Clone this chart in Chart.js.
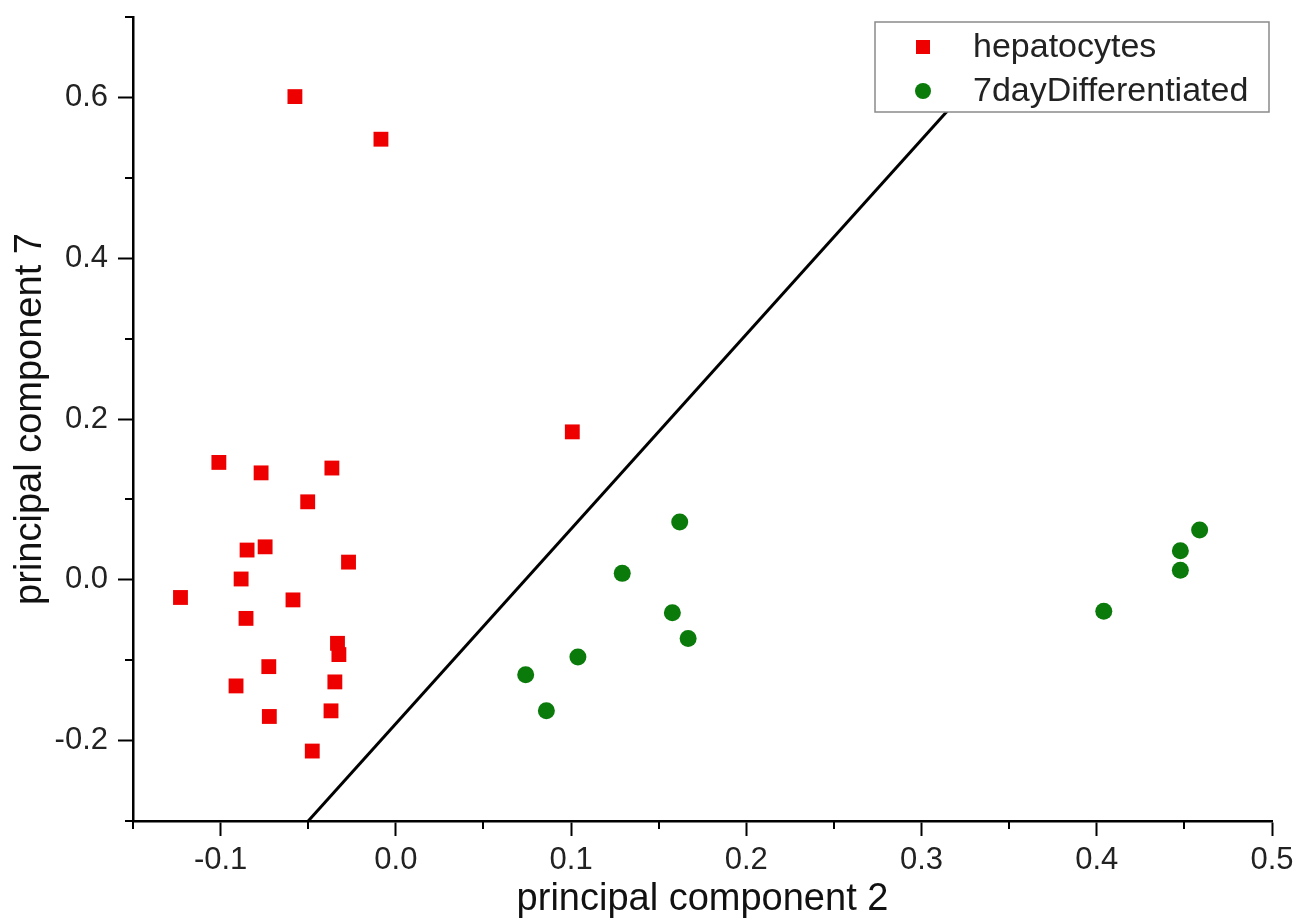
<!DOCTYPE html>
<html>
<head>
<meta charset="utf-8">
<script src="https://cdn.jsdelivr.net/npm/chart.js@4.4.1/dist/chart.umd.min.js"></script>
<style>
  html, body { margin: 0; padding: 0; background: #ffffff; }
  #wrap { width: 1300px; height: 922px; position: relative; }
</style>
</head>
<body>
<div id="wrap"><canvas id="c" width="1300" height="922"></canvas></div>
<script>
// ---- data ----
const seriesNames = ['hepatocytes', '7dayDifferentiated'];

const hepX = [-0.0576, -0.0085, 0.1007, -0.1010, -0.0769, -0.0365, -0.0503, -0.0849, -0.0746, -0.0270,
              -0.0883, -0.1229, -0.0587, -0.0855, -0.0333, -0.0325, -0.0725, -0.0348, -0.0912, -0.0370,
              -0.0722, -0.0477];
const hepY = [0.601, 0.548, 0.184, 0.146, 0.133, 0.139, 0.097, 0.037, 0.041, 0.022,
              0.001, -0.022, -0.025, -0.048, -0.079, -0.093, -0.108, -0.127, -0.132, -0.163,
              -0.170, -0.213];

const difX = [0.1620, 0.1292, 0.1578, 0.1668, 0.1039, 0.0741, 0.0859, 0.4040, 0.4477, 0.4477, 0.4587];
const difY = [0.072, 0.008, -0.041, -0.073, -0.096, -0.118, -0.163, -0.039, 0.012, 0.036, 0.062];

// separating line
const lineX = [-0.05, 0.33];
const lineY = [-0.30, 0.62];

// axes
const xMin = -0.15, xMax = 0.5;
const yMin = -0.3, yMax = 0.7;
const xMajorTicks = [-0.1, 0.0, 0.1, 0.2, 0.3, 0.4, 0.5];
const xMinorTicks = [-0.15, -0.05, 0.05, 0.15, 0.25, 0.35, 0.45];
const yMajorTicks = [-0.2, 0.0, 0.2, 0.4, 0.6];
const yMinorTicks = [-0.3, -0.1, 0.1, 0.3, 0.5, 0.7];
const xTitle = 'principal component 2';
const yTitle = 'principal component 7';

// ---- styles ----
const RED = '#ee0000';
const GREEN = '#0a7a0a';
const FONT = "'Liberation Sans', Arial, Helvetica, sans-serif";
const isMajor = (list, v) => list.some(m => Math.abs(m - v) < 1e-9);

const minorTicksPlugin = {
  id: 'minorTicks',
  afterDraw(chart) {
    const ctx = chart.ctx;
    const xs = chart.scales.x, ys = chart.scales.y;
    const a = chart.chartArea;
    ctx.save();
    ctx.strokeStyle = '#000';
    ctx.lineWidth = 2;
    ctx.beginPath();
    xMinorTicks.forEach(v => {
      const px = Math.round(xs.getPixelForValue(v));
      ctx.moveTo(px, a.bottom);
      ctx.lineTo(px, a.bottom + 8);
    });
    yMinorTicks.forEach(v => {
      const py = Math.round(ys.getPixelForValue(v));
      ctx.moveTo(a.left - 8, py);
      ctx.lineTo(a.left, py);
    });
    ctx.stroke();
    ctx.restore();
  }
};

const legendPlugin = {
  id: 'boxLegend',
  afterDraw(chart) {
    const ctx = chart.ctx;
    const bx = 875, by = 22, bw = 394, bh = 90;
    ctx.save();
    ctx.fillStyle = '#ffffff';
    ctx.fillRect(bx, by, bw, bh);
    ctx.strokeStyle = '#8a8a8a';
    ctx.lineWidth = 1.5;
    ctx.strokeRect(bx, by, bw, bh);
    const ds = chart.data.datasets;
    const rows = [47, 91];
    [0, 1].forEach(i => {
      const cy = rows[i];
      ctx.fillStyle = ds[i].backgroundColor;
      if (ds[i].pointStyle === 'rect') {
        ctx.fillRect(923 - 7, cy - 7, 14, 14);
      } else {
        ctx.beginPath();
        ctx.arc(923, cy, 8, 0, Math.PI * 2);
        ctx.fill();
      }
      ctx.fillStyle = '#222';
      ctx.font = '34px ' + FONT;
      ctx.textBaseline = 'middle';
      ctx.textAlign = 'left';
      ctx.fillText(ds[i].label, 973, cy + 1);
    });
    ctx.restore();
  }
};

new Chart(document.getElementById('c'), {
  type: 'scatter',
  data: {
    datasets: [
      {
        label: seriesNames[0],
        data: hepX.map((x, i) => ({ x, y: hepY[i] })),
        pointStyle: 'rect',
        pointRadius: 10.5,
        pointHoverRadius: 10.5,
        backgroundColor: RED,
        borderColor: RED,
        borderWidth: 0,
        order: 1
      },
      {
        label: seriesNames[1],
        data: difX.map((x, i) => ({ x, y: difY[i] })),
        pointStyle: 'circle',
        pointRadius: 8.5,
        pointHoverRadius: 8.5,
        backgroundColor: GREEN,
        borderColor: GREEN,
        borderWidth: 0,
        order: 1
      },
      {
        label: 'separator',
        type: 'line',
        data: lineX.map((x, i) => ({ x, y: lineY[i] })),
        borderColor: '#000',
        borderWidth: 3,
        pointRadius: 0,
        fill: false,
        showLine: true,
        order: 2
      }
    ]
  },
  options: {
    responsive: false,
    animation: false,
    events: [],
    layout: { padding: { top: 17, right: 28, left: 0, bottom: 0 } },
    plugins: {
      legend: { display: false },
      tooltip: { enabled: false },
      title: { display: false }
    },
    scales: {
      x: {
        type: 'linear',
        min: xMin, max: xMax,
        afterBuildTicks: s => { s.ticks = xMajorTicks.concat(xMinorTicks).sort((a, b) => a - b).map(v => ({ value: v })); },
        afterFit: s => { s.height = 101; s.paddingLeft = 0; s.paddingRight = 0; },
        border: { display: true, color: '#000', width: 2.5 },
        grid: {
          drawOnChartArea: false, drawTicks: true, tickLength: 15, tickWidth: 2,
          tickColor: c => (c.tick && isMajor(xMajorTicks, c.tick.value)) ? '#000' : 'rgba(0,0,0,0)'
        },
        ticks: {
          autoSkip: false, maxRotation: 0, padding: 6,
          color: '#222',
          font: { family: FONT, size: 31 },
          callback: v => isMajor(xMajorTicks, v) ? v.toFixed(1) : ''
        },
        title: {
          display: true, text: xTitle, color: '#111',
          font: { family: FONT, size: 38 },
          padding: { top: 0, bottom: 0 }
        }
      },
      y: {
        type: 'linear',
        min: yMin, max: yMax,
        afterBuildTicks: s => { s.ticks = yMajorTicks.concat(yMinorTicks).sort((a, b) => a - b).map(v => ({ value: v })); },
        afterFit: s => { s.width = 133; s.paddingTop = 0; s.paddingBottom = 0; },
        border: { display: true, color: '#000', width: 2.5 },
        grid: {
          drawOnChartArea: false, drawTicks: true, tickLength: 15, tickWidth: 2,
          tickColor: c => (c.tick && isMajor(yMajorTicks, c.tick.value)) ? '#000' : 'rgba(0,0,0,0)'
        },
        ticks: {
          autoSkip: false, padding: 10,
          color: '#222',
          font: { family: FONT, size: 31 },
          callback: v => isMajor(yMajorTicks, v) ? v.toFixed(1) : ''
        },
        title: {
          display: true, text: yTitle, color: '#111',
          font: { family: FONT, size: 38 },
          padding: { top: 8, bottom: 0 }
        }
      }
    }
  },
  plugins: [minorTicksPlugin, legendPlugin]
});
</script>
</body>
</html>
